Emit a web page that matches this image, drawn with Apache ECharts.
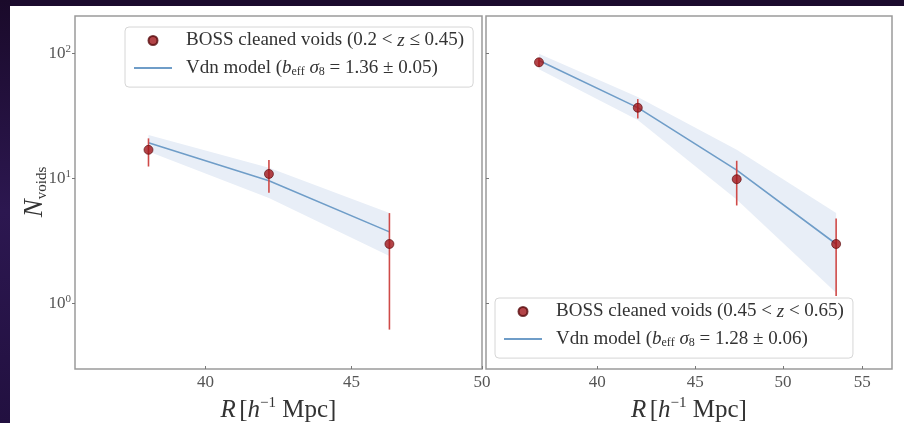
<!DOCTYPE html>
<html>
<head>
<meta charset="utf-8">
<script src="https://cdn.jsdelivr.net/npm/echarts@6/dist/echarts.min.js"></script>
<style>html,body{margin:0;padding:0;background:#1b0b2d;}#c{width:904px;height:423px;}</style>
</head>
<body>
<div id="c"></div>
<script>
// ---- Left panel (0.2 < z <= 0.45) ----
const xL = [38.2, 42.1, 46.4];
const yL = [17.0, 10.9, 3.0];
const errLoL = [12.5, 7.7, 0.62];
const errHiL = [21.0, 14.1, 5.3];
const modelL = [19.4, 9.6, 3.75];
const bandLoL = [16.5, 7.0, 2.4];
const bandHiL = [22.3, 12.2, 5.3];

// ---- Right panel (0.45 < z < 0.65) ----
const xR = [37.3, 42.0, 47.3, 53.3];
const yR = [85.2, 36.9, 9.9, 3.0];
const errLoR = [78, 30.3, 6.1, 1.15];
const errHiR = [92, 43.3, 13.9, 4.8];
const modelR = [88, 37.0, 11.7, 3.0];
const bandLoR = [75, 29.4, 6.8, 1.22];
const bandHiR = [100, 45, 17, 5.3];

const xTicksL = [40, 45, 50];
const xTicksR = [40, 45, 50, 55];
const yTicks = [1, 10, 100];
const yExp = {1: '0', 10: '1', 100: '2'};

const SERIF = 'Liberation Serif, DejaVu Serif, serif';
const tickColor = '#555';
const textColor = '#333';

function bandSeries(xs, lo, hi, gi) {
  return {
    type: 'custom', xAxisIndex: gi, yAxisIndex: gi, z: 1, silent: true,
    data: xs.map((x, i) => [x, lo[i], hi[i]]),
    encode: {x: 0, y: [1, 2]},
    renderItem: function (params, api) {
      if (params.dataIndex !== 0) return;
      const pts = [];
      for (let i = 0; i < xs.length; i++) pts.push(api.coord([xs[i], hi[i]]));
      for (let i = xs.length - 1; i >= 0; i--) pts.push(api.coord([xs[i], lo[i]]));
      return {type: 'polygon', shape: {points: pts}, style: {fill: '#e8eef7', stroke: 'none'}};
    }
  };
}
function errSeries(xs, lo, hi, gi) {
  return {
    type: 'custom', xAxisIndex: gi, yAxisIndex: gi, z: 3, silent: true,
    data: xs.map((x, i) => [x, lo[i], hi[i]]),
    encode: {x: 0, y: [1, 2]},
    renderItem: function (params, api) {
      const a = api.coord([api.value(0), api.value(1)]);
      const b = api.coord([api.value(0), api.value(2)]);
      return {type: 'line', shape: {x1: a[0], y1: a[1], x2: b[0], y2: b[1]},
        style: {stroke: '#cf4a48', lineWidth: 1.6}};
    }
  };
}
function lineSeries(name, xs, ys, gi) {
  return {name: name, type: 'line', xAxisIndex: gi, yAxisIndex: gi, z: 2,
    data: xs.map((x, i) => [x, ys[i]]), symbol: 'none', showSymbol: false,
    lineStyle: {color: '#6f9dc8', width: 1.6}, itemStyle: {color: '#6f9dc8'}};
}
function scatterSeries(name, xs, ys, gi) {
  return {name: name, type: 'scatter', xAxisIndex: gi, yAxisIndex: gi, z: 4,
    data: xs.map((x, i) => [x, ys[i]]), symbol: 'circle', symbolSize: 9,
    itemStyle: {color: '#a0151a', borderColor: '#560a0c', borderWidth: 0.8}};
}

const LF = 19;
const richMath = {
  i: {fontFamily: SERIF, fontStyle: 'italic', fontSize: LF, color: textColor, lineHeight: 20},
  n: {fontFamily: SERIF, fontSize: LF, color: textColor, lineHeight: 20},
  sub: {fontFamily: SERIF, fontSize: 12, color: textColor, verticalAlign: 'bottom', lineHeight: 14, padding: [6, 0, 0, 0]}
};

const legendNames = {
  dL: '{n|BOSS cleaned voids (0.2 < }{i|z}{n| ≤ 0.45)}',
  mL: '{n|Vdn model (}{i|b}{sub|eff}{n| }{i|σ}{sub|8}{n| = 1.36 ± 0.05)}',
  dR: '{n|BOSS cleaned voids (0.45 < }{i|z}{n| < 0.65)}',
  mR: '{n|Vdn model (}{i|b}{sub|eff}{n| }{i|σ}{sub|8}{n| = 1.28 ± 0.06)}'
};

function legendCfg(left, top, names) {
  return {
    left: left, top: top, orient: 'vertical',
    data: [{name: names[0], icon: 'circle'}, {name: names[1], itemStyle: {opacity: 0}}],
    itemWidth: 38, itemHeight: 9, itemGap: 8.6,
    padding: [4, 9, 9, 8],
    backgroundColor: '#fff', borderColor: '#d6d6d6', borderWidth: 1, borderRadius: 4,
    textStyle: {rich: richMath, padding: [0, 0, 0, 9]},
    formatter: n => legendNames[n],
    selectedMode: false
  };
}

function xAxisCfg(gi, min, max, ticks) {
  return {
    type: 'log', logBase: 10, gridIndex: gi, min: min, max: max,
    axisLine: {show: false}, splitLine: {show: false},
    axisTick: {show: true, inside: true, length: 3, customValues: ticks, lineStyle: {color: '#777'}},
    axisLabel: {customValues: ticks, fontFamily: SERIF, fontSize: 17, color: tickColor, margin: 5},
    name: '{i|R} {n|[}{i|h}{sup|−1}{n| Mpc]}', nameLocation: 'middle', nameGap: 21,
    nameTextStyle: {rich: {
      i: {fontFamily: SERIF, fontStyle: 'italic', fontSize: 25, color: textColor, lineHeight: 30},
      n: {fontFamily: SERIF, fontSize: 25, color: textColor, lineHeight: 30},
      sup: {fontFamily: SERIF, fontSize: 15, color: textColor, verticalAlign: 'top', lineHeight: 16, padding: [0, 0, 8, 0]}
    }}
  };
}
function yAxisCfg(gi, showLabels) {
  return {
    type: 'log', logBase: 10, gridIndex: gi, min: 0.3, max: 200,
    axisLine: {show: false}, splitLine: {show: false},
    axisTick: {show: true, inside: !showLabels, length: 3, customValues: yTicks, lineStyle: {color: '#777'}},
    axisLabel: {show: showLabels, customValues: yTicks, margin: 4,
      formatter: v => '{b|10}{s|' + (yExp[Math.round(v)] || '') + '}',
      rich: {
        b: {fontFamily: SERIF, fontSize: 17, color: tickColor, lineHeight: 20},
        s: {fontFamily: SERIF, fontSize: 11, color: tickColor, verticalAlign: 'top', lineHeight: 12, padding: [0, 0, 7, 0]}
      }}
  };
}

const chart = echarts.init(document.getElementById('c'), null, {renderer: 'canvas'});
chart.setOption({
  backgroundColor: '#1b0b2d',
  animation: false,
  graphic: [
    {type: 'rect', shape: {x: 0, y: 0, width: 11, height: 423}, z: -10,
      style: {fill: new echarts.graphic.LinearGradient(0, 0, 0, 1, [{offset: 0, color: '#1a0a2a'}, {offset: 0.5, color: '#2c1750'}, {offset: 1, color: '#221040'}])}},
    {type: 'rect', shape: {x: 10, y: 6, width: 894, height: 417}, z: -9, style: {fill: '#ffffff'}},
    {type: 'text', x: 35, y: 192, rotation: Math.PI / 2, z: 10,
      style: {text: '{i|N}{sub|voids}', align: 'center', verticalAlign: 'middle',
        rich: {
          i: {fontFamily: SERIF, fontStyle: 'italic', fontSize: 27, fill: textColor, lineHeight: 30},
          sub: {fontFamily: SERIF, fontSize: 15, fill: textColor, verticalAlign: 'bottom', lineHeight: 16, padding: [10, 0, 0, 0]}
        }}}
  ],
  grid: [
    {left: 75, top: 16, width: 407, height: 353, outerBoundsMode: 'none', containLabel: false, show: true, backgroundColor: '#fff', borderColor: '#9a9a9a', borderWidth: 1.5},
    {left: 486, top: 16, width: 406, height: 353, outerBoundsMode: 'none', containLabel: false, show: true, backgroundColor: '#fff', borderColor: '#9a9a9a', borderWidth: 1.5}
  ],
  xAxis: [xAxisCfg(0, 36, 50, xTicksL), xAxisCfg(1, 35, 57, xTicksR)],
  yAxis: [yAxisCfg(0, true), yAxisCfg(1, false)],
  legend: [legendCfg(125, 27, ['dL', 'mL']), legendCfg(495, 298, ['dR', 'mR'])],
  series: [
    bandSeries(xL, bandLoL, bandHiL, 0),
    lineSeries('mL', xL, modelL, 0),
    errSeries(xL, errLoL, errHiL, 0),
    scatterSeries('dL', xL, yL, 0),
    bandSeries(xR, bandLoR, bandHiR, 1),
    lineSeries('mR', xR, modelR, 1),
    errSeries(xR, errLoR, errHiR, 1),
    scatterSeries('dR', xR, yR, 1)
  ]
});
</script>
</body>
</html>
